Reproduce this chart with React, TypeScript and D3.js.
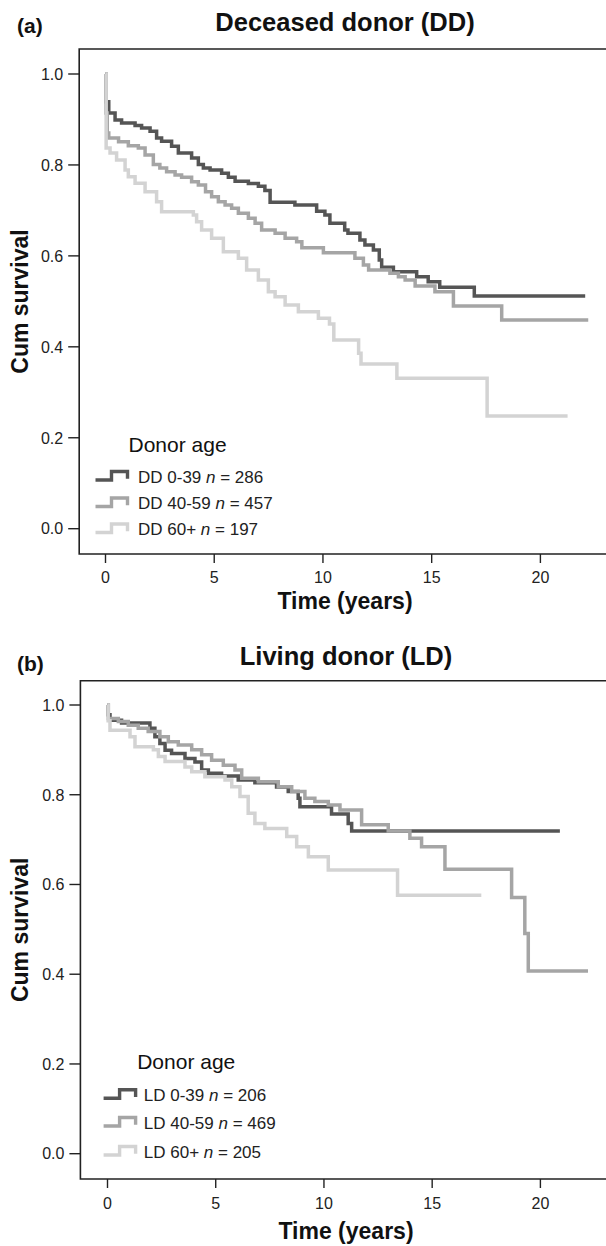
import React from 'react';
import * as d3 from 'd3';

type Pt = [number, number];

// Deceased donor (DD) Kaplan-Meier steps: [years, cumulative survival]
const ddYoung: Pt[] = [
  [0, 1.0], [0.02, 0.939], [0.15, 0.914], [0.44, 0.899], [0.74, 0.892], [1.36, 0.887], [1.66, 0.881],
  [2.05, 0.874], [2.35, 0.859], [2.58, 0.852], [3.04, 0.841], [3.35, 0.826], [3.96, 0.815], [4.27, 0.801],
  [4.5, 0.793], [4.81, 0.789], [5.34, 0.782], [5.65, 0.773], [5.96, 0.764], [6.57, 0.759], [7.03, 0.753],
  [7.33, 0.744], [7.57, 0.718], [8.71, 0.712], [9.71, 0.698], [10.09, 0.69], [10.32, 0.672], [11.0, 0.657],
  [11.15, 0.65], [11.7, 0.635], [11.93, 0.624], [12.32, 0.613], [12.59, 0.591], [12.7, 0.575], [13.24, 0.565],
  [14.31, 0.554], [14.84, 0.543], [15.37, 0.531], [16.96, 0.512], [22.06, 0.512],
];
const ddMid: Pt[] = [
  [0, 1.0], [0.02, 0.914], [0.08, 0.87], [0.15, 0.859], [0.6, 0.851], [1.05, 0.842], [1.51, 0.837],
  [1.82, 0.822], [2.2, 0.801], [2.5, 0.793], [2.81, 0.785], [3.2, 0.778], [3.5, 0.773], [3.96, 0.763],
  [4.27, 0.756], [4.6, 0.741], [4.88, 0.73], [5.19, 0.719], [5.5, 0.712], [5.8, 0.705], [6.11, 0.694],
  [6.57, 0.683], [6.88, 0.672], [7.18, 0.657], [7.8, 0.65], [8.26, 0.639], [8.79, 0.631], [9.03, 0.618],
  [10.02, 0.607], [11.47, 0.595], [11.86, 0.58], [12.1, 0.569], [13.08, 0.562], [13.47, 0.554],
  [13.78, 0.547], [14.24, 0.534], [15.15, 0.521], [16.0, 0.49], [18.22, 0.459], [22.2, 0.459],
];
const ddOld: Pt[] = [
  [0, 1.0], [0.03, 0.837], [0.21, 0.826], [0.51, 0.811], [0.9, 0.789], [1.05, 0.774], [1.36, 0.76],
  [1.82, 0.741], [2.35, 0.719], [2.58, 0.697], [4.04, 0.69], [4.19, 0.675], [4.42, 0.657], [4.88, 0.639],
  [5.42, 0.609], [6.11, 0.595], [6.49, 0.569], [7.03, 0.547], [7.49, 0.521], [7.8, 0.51], [8.26, 0.492],
  [8.87, 0.477], [9.79, 0.463], [10.3, 0.45], [10.5, 0.415], [11.64, 0.386], [11.75, 0.362],
  [13.4, 0.331], [17.55, 0.248], [21.25, 0.248],
];

// Living donor (LD)
const ldYoung: Pt[] = [
  [0, 1.0], [0.03, 0.978], [0.115, 0.966], [0.65, 0.96], [1.96, 0.948], [2.19, 0.929], [2.42, 0.914],
  [2.66, 0.899], [2.96, 0.892], [3.58, 0.881], [4.04, 0.873], [4.35, 0.855], [4.66, 0.848], [5.27, 0.842],
  [6.04, 0.833], [6.81, 0.827], [7.81, 0.817], [8.35, 0.807], [8.81, 0.792], [8.89, 0.773], [10.35, 0.757],
  [11.12, 0.736], [11.28, 0.719], [20.9, 0.719],
];
const ldMid: Pt[] = [
  [0, 1.0], [0.04, 0.97], [0.5, 0.963], [0.96, 0.955], [1.42, 0.948], [1.88, 0.941], [2.42, 0.929],
  [2.81, 0.918], [3.27, 0.911], [3.89, 0.9], [4.35, 0.889], [4.81, 0.877], [5.35, 0.866], [5.89, 0.855],
  [6.2, 0.837], [6.97, 0.829], [7.89, 0.818], [8.51, 0.807], [9.12, 0.792], [9.58, 0.785], [10.2, 0.777],
  [10.74, 0.766], [11.74, 0.733], [12.97, 0.719], [13.97, 0.703], [14.51, 0.684], [15.59, 0.634],
  [18.67, 0.571], [19.28, 0.491], [19.44, 0.407], [22.2, 0.407],
];
const ldOld: Pt[] = [
  [0, 1.0], [0.03, 0.965], [0.115, 0.944], [1.04, 0.929], [1.27, 0.907], [2.12, 0.9], [2.35, 0.885],
  [2.66, 0.874], [3.58, 0.862], [3.89, 0.851], [4.5, 0.84], [5.43, 0.833], [5.74, 0.818], [6.12, 0.796],
  [6.5, 0.759], [6.81, 0.736], [7.27, 0.725], [8.28, 0.707], [8.74, 0.684], [9.28, 0.662], [10.2, 0.632],
  [13.4, 0.576], [17.27, 0.576],
];

const ddLabels = [
  { pre: 'DD 0-39 ', n: '286' },
  { pre: 'DD 40-59 ', n: '457' },
  { pre: 'DD 60+ ', n: '197' },
];
const ldLabels = [
  { pre: 'LD 0-39 ', n: '206' },
  { pre: 'LD 40-59 ', n: '469' },
  { pre: 'LD 60+ ', n: '205' },
];

const yTicks = [0, 0.2, 0.4, 0.6, 0.8, 1.0];
const xTicks = [0, 5, 10, 15, 20];
const colors = ['#555555', '#a5a5a5', '#d3d3d3'];

const FONT = '"Liberation Sans", Arial, Helvetica, sans-serif';

type Geo = {
  left: number; top: number; bottom: number;
  x0: number; x20: number; yZero: number; yOne: number;
  titleY: number; titleX: number; tagY: number;
  xLabY: number; tickLabY: number;
  legX: number; legTextX: number; legTitleX: number; legTitleY: number; legRows: number[];
};

function Panel({ geo, series, labels, title, tag }: { geo: Geo; series: Pt[][]; labels: { pre: string; n: string }[]; title: string; tag: string }) {
  const x = d3.scaleLinear().domain([0, 20]).range([geo.x0, geo.x20]);
  const y = d3.scaleLinear().domain([0, 1]).range([geo.yZero, geo.yOne]);
  const line = d3.line<Pt>().x(d => x(d[0])).y(d => y(d[1])).curve(d3.curveStepAfter);
  const right = 640;
  const symW = 32;
  const symH = 8.5;
  return (
    <g>
      <text x={17} y={geo.tagY} fontFamily={FONT} fontWeight="bold" fontSize={21} fill="#111">{tag}</text>
      <text x={geo.titleX} y={geo.titleY} textAnchor="middle" fontFamily={FONT} fontWeight="bold" fontSize={25.5} fill="#111">{title}</text>
      <path d={`M${right},${geo.top}H${geo.left}V${geo.bottom}H${right}`} fill="none" stroke="#222" strokeWidth={1.6} />
      {yTicks.map(t => (
        <g key={'y' + t}>
          <line x1={geo.left - 11} x2={geo.left} y1={y(t)} y2={y(t)} stroke="#222" strokeWidth={1.4} />
          <text x={geo.left - 16} y={y(t)} dy="0.36em" textAnchor="end" fontFamily={FONT} fontSize={16} fill="#222">{d3.format('.1f')(t)}</text>
        </g>
      ))}
      {xTicks.map(t => (
        <g key={'x' + t}>
          <line x1={x(t)} x2={x(t)} y1={geo.bottom} y2={geo.bottom + 9} stroke="#222" strokeWidth={1.4} />
          <text x={x(t)} y={geo.tickLabY} textAnchor="middle" fontFamily={FONT} fontSize={16} fill="#222">{t}</text>
        </g>
      ))}
      <text transform={`translate(20,${(geo.top + geo.bottom) / 2}) rotate(-90)`} dy="0.36em" textAnchor="middle" fontFamily={FONT} fontWeight="bold" fontSize={23} fill="#111">Cum survival</text>
      <text x={geo.titleX} y={geo.xLabY} textAnchor="middle" fontFamily={FONT} fontWeight="bold" fontSize={23} fill="#111">Time (years)</text>
      {series.map((s, i) => (
        <path key={'s' + i} d={line(s) || ''} fill="none" stroke={colors[i]} strokeWidth={3.5} strokeLinejoin="miter" />
      ))}
      <text x={geo.legTitleX} y={geo.legTitleY} dy="0.36em" fontFamily={FONT} fontSize={21} fill="#111">Donor age</text>
      {labels.map((l, i) => {
        const cy = geo.legRows[i];
        const top = cy - symH / 2 - 1;
        const bot = cy + symH / 2 - 1;
        const sx = geo.legX;
        return (
          <g key={'l' + i}>
            <path d={`M${sx},${bot}H${sx + symW * 0.5}V${top}H${sx + symW}V${top + symH * 0.85}`} fill="none" stroke={colors[i]} strokeWidth={3.4} />
            <text x={geo.legTextX} y={cy} dy="0.36em" fontFamily={FONT} fontSize={17} fill="#222">
              {l.pre}<tspan fontStyle="italic">n</tspan>{' = ' + l.n}
            </text>
          </g>
        );
      })}
    </g>
  );
}

const geoA: Geo = {
  left: 79.2, top: 49, bottom: 554, x0: 105.5, x20: 540.4, yZero: 528.7, yOne: 74,
  titleY: 31, titleX: 345, tagY: 32.5, xLabY: 609, tickLabY: 583,
  legX: 95.5, legTextX: 138, legTitleX: 128.5, legTitleY: 444, legRows: [476.7, 503.3, 529.3],
};
const geoB: Geo = {
  left: 80.4, top: 680.7, bottom: 1179, x0: 107.5, x20: 540.4, yZero: 1153.7, yOne: 705,
  titleY: 665, titleX: 346, tagY: 670.5, xLabY: 1239, tickLabY: 1209,
  legX: 103.6, legTextX: 143.8, legTitleX: 137.2, legTitleY: 1061, legRows: [1095, 1122.7, 1151.7],
};

export default function App() {
  return (
    <svg width={606} height={1246} style={{ position: 'absolute', left: 0, top: 0, background: '#fff' }}>
      <rect width={606} height={1246} fill="#fff" />
      <Panel geo={geoA} series={[ddYoung, ddMid, ddOld]} labels={ddLabels} title="Deceased donor (DD)" tag="(a)" />
      <Panel geo={geoB} series={[ldYoung, ldMid, ldOld]} labels={ldLabels} title="Living donor (LD)" tag="(b)" />
    </svg>
  );
}
